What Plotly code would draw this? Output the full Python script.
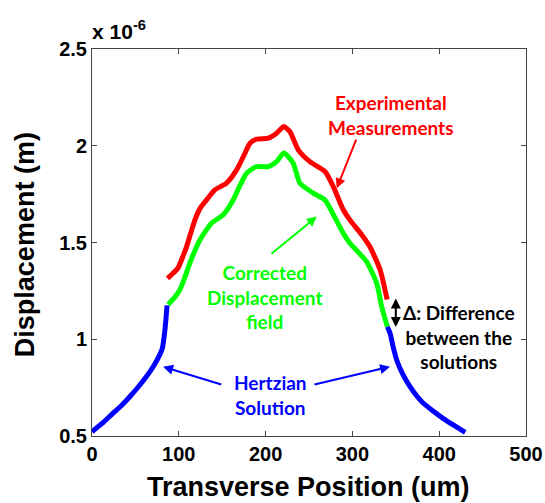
import plotly.graph_objects as go

# Values in units of 1e-6 m
blue_left_x = [0, 12, 24, 34, 43.5, 53, 62.7, 71, 78, 81, 84, 86.5]
blue_left_y = [0.522, 0.566, 0.617, 0.658, 0.703, 0.752, 0.807, 0.862, 0.919, 0.953, 1.048, 1.175]

red_x = [87, 93, 99, 104, 109, 118.5, 125, 132, 141.5, 155, 166.6, 175, 182, 189.6, 203, 212.7, 221, 228,
         237.6, 251, 268.4, 278, 289.5, 297, 309, 320, 332, 340]
red_y = [1.315, 1.34, 1.367, 1.42, 1.479, 1.616, 1.68, 1.72, 1.772, 1.807, 1.875, 1.95, 2.013, 2.034, 2.039,
         2.065, 2.099, 2.073, 1.979, 1.918, 1.867, 1.789, 1.669, 1.617, 1.55, 1.479, 1.358, 1.205]

green_x = [87.8, 95, 101.2, 107, 112.7, 124.3, 137.7, 151.2, 162.6, 170, 178.1, 189.6, 203, 212.7, 221.1,
           231.8, 239.5, 254.9, 268.4, 278, 289.5, 297.2, 308.8, 316.5, 328, 333.8, 340.2]
green_y = [1.18, 1.215, 1.255, 1.32, 1.393, 1.513, 1.6, 1.643, 1.72, 1.79, 1.858, 1.892, 1.892, 1.918, 1.962,
           1.91, 1.807, 1.755, 1.72, 1.645, 1.548, 1.496, 1.44, 1.40, 1.29, 1.168, 1.065]

blue_right_x = [340.2, 343.4, 347, 351, 358, 366.4, 374, 381.8, 393.3, 404.8, 418, 430]
blue_right_y = [1.065, 1.031, 0.96, 0.893, 0.82, 0.755, 0.708, 0.669, 0.628, 0.59, 0.552, 0.519]

x_ticks = [0, 100, 200, 300, 400, 500]
y_ticks = [0.5, 1, 1.5, 2, 2.5]

LW = 5
fig = go.Figure()
for xs, ys, col in [(blue_left_x, blue_left_y, "#0000ff"), (red_x, red_y, "#ff0000"),
                    (green_x, green_y, "#00ff00"), (blue_right_x, blue_right_y, "#0000ff")]:
    fig.add_trace(go.Scatter(x=xs, y=ys, mode="lines", cliponaxis=True,
                             line=dict(color=col, width=LW, shape="spline", smoothing=0.6)))

afont = dict(family="Lato", size=19)

def label(text, x, y, color):
    fig.add_annotation(x=x, y=y, xref="x", yref="y", text=text, showarrow=False,
                       font=dict(color=color, **afont), align="center")

def arrow(x0, y0, x1, y1, color, both=False):
    fig.add_annotation(x=x1, y=y1, ax=x0, ay=y0, xref="x", yref="y", axref="x", ayref="y",
                       text="", showarrow=True, arrowhead=2, arrowsize=1.0, arrowwidth=2,
                       arrowcolor=color, startarrowhead=2, startarrowsize=1.0,
                       arrowside="end+start" if both else "end")

label("<b>Experimental<br>Measurements</b>", 345, 2.16, "#ff0000")
arrow(305, 2.04, 282, 1.78, "#ff0000")

label("<b>Corrected<br>Displacement<br>field</b>", 199, 1.216, "#00ff00")
arrow(205, 1.436, 259, 1.634, "#00ff00")

label("<b>Hertzian<br>Solution</b>", 206, 0.712, "#0000ff")
arrow(150.7, 0.764, 81.9, 0.858, "#0000ff")
arrow(254.6, 0.764, 343.4, 0.858, "#0000ff")

label("<b>Δ: Difference<br>between the<br>solutions</b>", 423, 1.013, "#000000")
arrow(350, 1.055, 350, 1.21, "#000000", both=True)

fig.add_annotation(xref="paper", yref="paper", x=0, y=1, xanchor="left", yanchor="bottom",
                   yshift=4, xshift=-2, showarrow=False,
                   text="<b>x 10<sup>-6</sup></b>",
                   font=dict(family="Liberation Sans", size=21, color="black"))

# Axis titles
fig.add_annotation(xref="paper", yref="paper", x=0.4977, y=-0.132, xanchor="center", yanchor="middle",
                   showarrow=False, text="<b>Transverse Position (um)</b>",
                   font=dict(family="Liberation Sans", size=27, color="black"))
fig.add_annotation(xref="paper", yref="paper", x=-0.154, y=0.4935, xanchor="center", yanchor="middle",
                   showarrow=False, text="<b>Displacement (m)</b>", textangle=-90,
                   font=dict(family="Liberation Sans", size=27, color="black"))

axis_common = dict(showgrid=False, zeroline=False, showline=True, linecolor="#444444", linewidth=1,
                   mirror="ticks", ticks="inside", ticklen=5, tickcolor="#444444", automargin=False,
                   tickfont=dict(family="Liberation Sans", size=20, color="black"))

fig.update_xaxes(range=[0, 500], tickvals=x_ticks, ticktext=[f"<b>{v}</b>" for v in x_ticks],
                 **axis_common)
fig.update_yaxes(range=[0.5, 2.5], tickvals=y_ticks, ticktext=[f"<b>{v:g}</b>" for v in y_ticks],
                 **axis_common)

fig.update_layout(width=545, height=503, margin=dict(l=92, r=19, t=49, b=67),
                  plot_bgcolor="white", paper_bgcolor="white", showlegend=False)

fig.write_html("out.html")
